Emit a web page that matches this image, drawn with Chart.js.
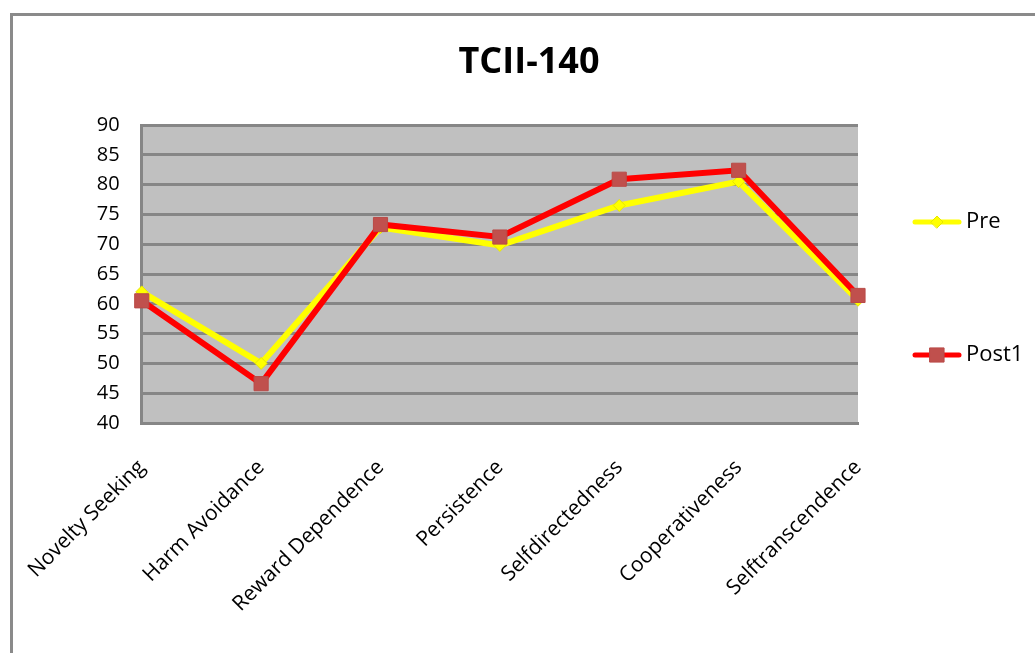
<!DOCTYPE html>
<html>
<head>
<meta charset="utf-8">
<script src="https://cdn.jsdelivr.net/npm/chart.js@4"></script>
<style>
  html, body { margin: 0; padding: 0; background: #fff; }
  #wrap { position: relative; width: 1035px; height: 653px; overflow: hidden; }
  #frame { position: absolute; left: 10px; top: 13px; width: 1040px; height: 660px;
           border-top: 3px solid #8a8a8a; border-left: 3px solid #8a8a8a; box-sizing: border-box; }
  canvas { position: absolute; left: 0; top: 0; }
</style>
</head>
<body>
<div id="wrap">
  <div id="frame"></div>
  <canvas id="chart" width="1035" height="653"></canvas>
</div>
<script>
// ── Data ─────────────────────────────────────────────────────
const categories = ['Novelty Seeking', 'Harm Avoidance', 'Reward Dependence', 'Persistence',
                    'Selfdirectedness', 'Cooperativeness', 'Selftranscendence'];
const preValues   = [62, 50, 72.8, 69.8, 76.5, 80.5, 60.6];
const post1Values = [60.5, 46.6, 73.3, 71.2, 80.9, 82.4, 61.4];
const yTicks = [40, 45, 50, 55, 60, 65, 70, 75, 80, 85, 90];
const chartTitle = 'TCII-140';

const FONT = '"Open Sans", "DejaVu Sans", sans-serif';

// grå bakgrund i ritytan
const plotBg = {
  id: 'plotBg',
  beforeDraw(chart) {
    const { ctx, chartArea: a } = chart;
    ctx.save();
    ctx.fillStyle = '#c0c0c0';
    ctx.fillRect(a.left, a.top, a.right - a.left, a.bottom - a.top);
    ctx.restore();
  }
};

// titel centrerad över hela figuren (inte bara ritytan + padding)
const topTitle = {
  id: 'topTitle',
  afterDraw(chart) {
    const ctx = chart.ctx;
    ctx.save();
    ctx.fillStyle = '#000';
    ctx.font = 'bold 36px ' + FONT;
    ctx.textAlign = 'center';
    ctx.textBaseline = 'middle';
    ctx.fillText(chartTitle, 529, 63);
    ctx.restore();
  }
};

// egen legend: linje + markör, som i Excel
const sideLegend = {
  id: 'sideLegend',
  afterDraw(chart) {
    const ctx = chart.ctx;
    const rows = [222, 355];
    chart.data.datasets.forEach((ds, i) => {
      const y = rows[i];
      ctx.save();
      ctx.strokeStyle = ds.borderColor;
      ctx.lineWidth = 5;
      ctx.lineCap = 'round';
      ctx.beginPath(); ctx.moveTo(915, y); ctx.lineTo(959, y); ctx.stroke();
      ctx.fillStyle = ds.pointBackgroundColor;
      ctx.strokeStyle = ds.pointBorderColor;
      ctx.lineWidth = 1;
      Chart.helpers.drawPoint(ctx, { pointStyle: ds.pointStyle, radius: ds.pointRadius, borderWidth: 1 }, 937, y);
      ctx.fillStyle = '#000';
      ctx.font = '22px ' + FONT;
      ctx.textBaseline = 'middle';
      ctx.fillText(ds.label, 966, y);
      ctx.restore();
    });
  }
};

new Chart(document.getElementById('chart').getContext('2d'), {
  type: 'line',
  data: {
    labels: categories,
    datasets: [
      { label: 'Pre', data: preValues, borderColor: '#ffff00', borderWidth: 6,
        pointStyle: 'rectRot', pointRadius: 6, pointBackgroundColor: '#ffff00',
        pointBorderColor: '#e6e600', pointBorderWidth: 1, order: 2, tension: 0 },
      { label: 'Post1', data: post1Values, borderColor: '#ff0000', borderWidth: 6,
        pointStyle: 'rect', pointRadius: 10, pointBackgroundColor: '#c0504d',
        pointBorderColor: '#b84a47', pointBorderWidth: 1, order: 1, tension: 0 }
    ]
  },
  options: {
    responsive: false, animation: false,
    layout: { padding: { left: 0, right: 177, top: 125, bottom: 0 } },
    plugins: {
      legend: { display: false },
      tooltip: { enabled: false },
      title: { display: false }
    },
    scales: {
      x: {
        offset: false,
        grid: { display: false, drawTicks: false },
        border: { display: true, color: '#868686', width: 3 },
        ticks: { color: '#000', font: { family: FONT, size: 21 }, minRotation: 45, maxRotation: 45, padding: 32 },
        afterFit(s) { s.height = 653 - 423 - 0; }
      },
      y: {
        min: 40, max: 90,
        afterBuildTicks(s) { s.ticks = yTicks.map(v => ({ value: v })); },
        grid: { color: '#868686', lineWidth: 3, drawTicks: false },
        border: { display: true, color: '#868686', width: 3 },
        ticks: { color: '#000', font: { family: FONT, size: 20 }, padding: 22 },
        afterFit(s) { s.width = 140; }
      }
    }
  },
  plugins: [plotBg, topTitle, sideLegend]
});
</script>
</body>
</html>
